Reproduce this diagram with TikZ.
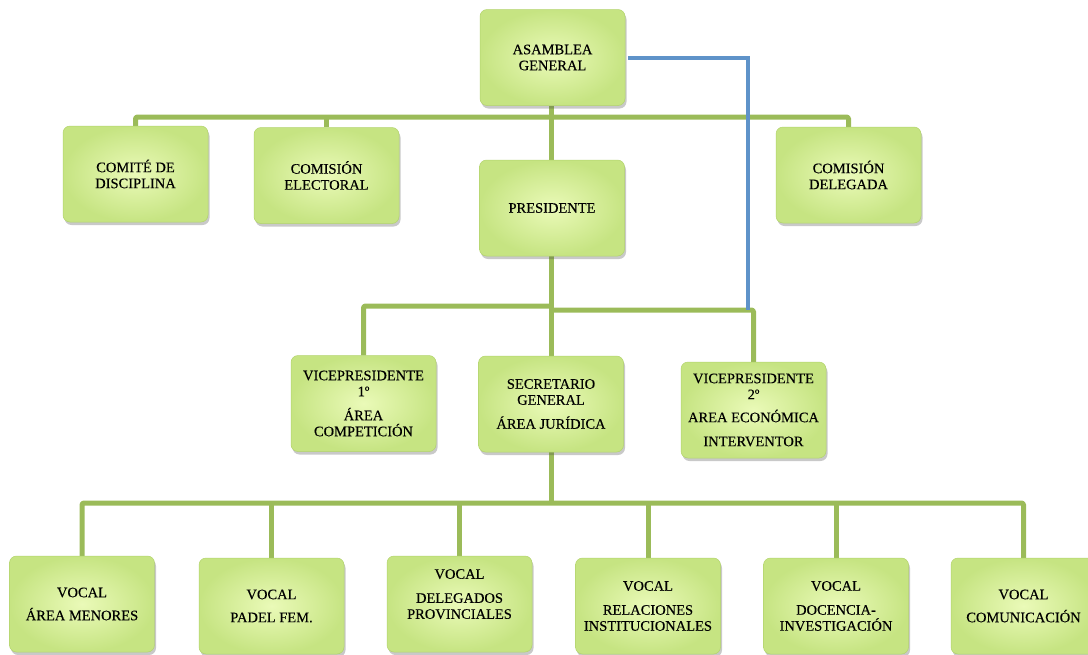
\documentclass[tikz,border=0pt]{standalone}
\usepackage{fontspec}
\setmainfont{Liberation Serif}
\newfontfamily\boxfamily{Liberation Serif}[FakeBold=0.25]
\usetikzlibrary{shadows,backgrounds}
\definecolor{lgin}{HTML}{EAFAB8}
\definecolor{lgout}{HTML}{C6E482}
\definecolor{lgedge}{HTML}{B2D36C}
\definecolor{conngreen}{HTML}{9BBB59}
\definecolor{connblue}{HTML}{5F93C9}
\tikzset{
  orgbox/.style={rounded corners=7pt, minimum width=145pt, minimum height=96pt,
    inner sep=2pt, align=center, font=\boxfamily\fontsize{14.5}{16}\selectfont,
    inner color=lgin, outer color=lgout, draw=lgedge, line width=0.5pt,
    drop shadow={shadow xshift=1.5pt, shadow yshift=-3pt, opacity=0.3, fill=black!70}},
  gline/.style={draw=conngreen, line width=5pt, line join=round, rounded corners=1.5pt},
  bline/.style={draw=connblue, line width=4pt, line join=miter},
}
\begin{document}
\begin{tikzpicture}[x=1pt,y=-1pt]
\useasboundingbox (0,0) rectangle (1088,654);
% top level
\node[orgbox] (ag) at (552.5,57.5) {ASAMBLEA\\GENERAL};
\node[orgbox] (cd) at (135.5,174) {COMITÉ DE\\DISCIPLINA};
\node[orgbox] (ce) at (326.5,175.5) {COMISIÓN\\ELECTORAL};
\node[orgbox] (pr) at (552,208) {PRESIDENTE};
\node[orgbox] (cdel) at (848.5,175) {COMISIÓN\\DELEGADA};
% middle level
\node[orgbox] (v1) at (363.5,403.5) {VICEPRESIDENTE\\1º\\[8pt]ÁREA\\COMPETICIÓN};
\node[orgbox] (sg) at (551,404) {SECRETARIO\\GENERAL\\[8pt]ÁREA JURÍDICA};
\node[orgbox] (v2) at (753.5,410) {VICEPRESIDENTE\\2º\\[7pt]AREA ECONÓMICA\\[8pt]INTERVENTOR};
% bottom level
\node[orgbox] (b1) at (82,604) {VOCAL\\[7pt]ÁREA MENORES};
\node[orgbox] (b2) at (271.5,606) {VOCAL\\[7pt]PADEL FEM.};
\node[orgbox] (b3) at (459.5,604) {VOCAL\\[8pt]DELEGADOS\\PROVINCIALES\\[4pt]\mbox{}};
\node[orgbox] (b4) at (648,606) {VOCAL\\[8pt]RELACIONES\\INSTITUCIONALES};
\node[orgbox] (b5) at (836,606) {VOCAL\\[8pt]DOCENCIA-\\INVESTIGACIÓN};
\node[orgbox] (b6) at (1023.5,606) {VOCAL\\[7pt]COMUNICACIÓN};
% junctions
\coordinate (j1) at (551,117);
\coordinate (j2) at (551,306);
\coordinate (j2r) at (551,310);
\coordinate (j3) at (551,503);
\coordinate (bt) at (748,58);
\begin{pgfonlayer}{background}
\draw[gline] (cd.north) |- (j1) -| (cdel.north);
\draw[gline] (ce.north) -- (ce.north |- j1);
\draw[gline] (ag.south -| j1) -- (pr.north -| j1);
\draw[gline] (pr.south -| j2) -- (sg.north -| j2);
\draw[gline] (j2) -| (v1.north);
\draw[gline] (j2r) -| (v2.north);
\draw[gline] (sg.south -| j3) -- (j3);
\draw[gline] (b1.north) |- (j3) -| (b6.north);
\draw[gline] (b2.north) -- (b2.north |- j3);
\draw[gline] (b3.north) -- (b3.north |- j3);
\draw[gline] (b4.north) -- (b4.north |- j3);
\draw[gline] (b5.north) -- (b5.north |- j3);
\draw[bline] ([xshift=3pt]ag.east) -| (bt |- j2r);
\end{pgfonlayer}
\end{tikzpicture}
\end{document}
